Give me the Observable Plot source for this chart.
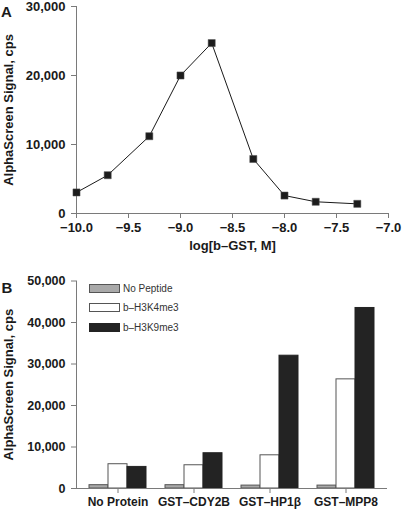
<!DOCTYPE html>
<html>
<head>
<meta charset="utf-8">
<script src="https://cdn.jsdelivr.net/npm/d3@7"></script>
<script src="https://cdn.jsdelivr.net/npm/@observablehq/plot@0.6"></script>
<style>
  html, body { margin: 0; padding: 0; background: #fff; }
  #wrap { position: relative; width: 404px; height: 510px; overflow: hidden; font-family: "Liberation Sans", Arial, sans-serif; }
  #panelA, #panelB { position: absolute; left: 0; }
  #panelA { top: 0; }
  #panelB { top: 262px; }
  #legend { position: absolute; left: 89px; top: 279px; font-size: 10px; color: #333; }
  .lrow { display: flex; align-items: center; height: 19.3px; }
  .sw { width: 29px; height: 7px; border: 1px solid #555; margin-right: 3px; }
</style>
</head>
<body>
<div id="wrap">
  <div id="panelA"></div>
  <div id="panelB"></div>
  <div id="legend"></div>
</div>
<script>
// ---------- Panel A data ----------
const logGST = [-10.0, -9.7, -9.3, -9.0, -8.7, -8.3, -8.0, -7.7, -7.3];
const signalA = [3050, 5550, 11200, 20000, 24700, 7900, 2600, 1700, 1400];
const xTicksA = [-10.0, -9.5, -9.0, -8.5, -8.0, -7.5, -7.0];
const yTicksA = [0, 10000, 20000, 30000];

// ---------- Panel B data ----------
const categories = ["No Protein", "GST–CDY2B", "GST–HP1β", "GST–MPP8"];
const series = ["No Peptide", "b–H3K4me3", "b–H3K9me3"];
const noPeptide = [800, 800, 700, 700];
const h3k4me3 = [5850, 5600, 8000, 26300];
const h3k9me3 = [5200, 8500, 32000, 43500];
const yTicksB = [0, 10000, 20000, 30000, 40000, 50000];
const seriesFill = ["#a9a9a9", "#ffffff", "#232323"];
const seriesStroke = ["#555555", "#555555", "#232323"];

const font = "'Liberation Sans', Arial, sans-serif";
const axisColor = "#7a7a7a";
const yTitle = "AlphaScreen Signal, cps";

// ---------- Panel A ----------
const dataA = logGST.map((x, i) => ({x, y: signalA[i]}));
const chartA = Plot.plot({
  width: 404, height: 262,
  marginTop: 6, marginBottom: 49, marginLeft: 76, marginRight: 16,
  style: {fontFamily: font, fontSize: "13px", fontWeight: "bold", color: "#1a1a1a", background: "transparent", overflow: "visible"},
  x: {domain: [-10, -7]},
  y: {domain: [0, 30000]},
  marks: [
    Plot.axisX({ticks: xTicksA, tickFormat: d3.format(".1f"), tickSize: 5, tickPadding: 4, stroke: axisColor, label: null, fontSize: 13}),
    Plot.axisY({ticks: yTicksA, tickFormat: d3.format(","), tickSize: 5, tickPadding: 6, stroke: axisColor, label: null, fontSize: 13}),
    Plot.ruleY([0], {stroke: axisColor}),
    Plot.ruleX([-10], {stroke: axisColor}),
    Plot.line(dataA, {x: "x", y: "y", stroke: "#1a1a1a", strokeWidth: 1}),
    Plot.dot(dataA, {x: "x", y: "y", symbol: "square", r: 4, fill: "#1c1c1c", stroke: "#555", strokeWidth: 0.5}),
    Plot.text([yTitle], {frameAnchor: "left", dx: -68, rotate: -90, textAnchor: "middle", text: d => d, fontSize: 13, fontWeight: "bold"}),
    Plot.text(["log[b–GST, M]"], {frameAnchor: "bottom", dy: 36, textAnchor: "middle", text: d => d, fontSize: 13, fontWeight: "bold"}),
    Plot.text(["A"], {frameAnchor: "top-left", dx: -70, dy: 0, textAnchor: "middle", text: d => d, fontSize: 15, fontWeight: "bold"})
  ]
});
document.getElementById("panelA").appendChild(chartA);

// ---------- Panel B ----------
const dataB = [];
const domainB = [];
categories.forEach((c, i) => {
  if (i > 0) domainB.push("gap" + i);
  [noPeptide, h3k4me3, h3k9me3].forEach((arr, j) => {
    const key = c + "|" + series[j];
    domainB.push(key);
    dataB.push({key, cat: c, series: series[j], value: arr[i]});
  });
});
const tickKeys = categories.map(c => c + "|" + series[1]);

const chartB = Plot.plot({
  width: 404, height: 248,
  marginTop: 18.5, marginBottom: 22, marginLeft: 76, marginRight: 17,
  style: {fontFamily: font, fontSize: "13px", fontWeight: "bold", color: "#1a1a1a", background: "transparent", overflow: "visible"},
  x: {type: "band", domain: domainB, paddingInner: 0, paddingOuter: 0.5},
  y: {domain: [0, 50000]},
  marks: [
    Plot.barY(dataB, {x: "key", y: "value", fill: d => seriesFill[series.indexOf(d.series)], stroke: d => seriesStroke[series.indexOf(d.series)], strokeWidth: 1, inset: 0}),
    Plot.axisX({ticks: tickKeys, tickFormat: d => d.split("|")[0], tickSize: 5, tickPadding: 4, stroke: axisColor, label: null, fontSize: 12}),
    Plot.axisY({ticks: yTicksB, tickFormat: d3.format(","), tickSize: 5, tickPadding: 6, stroke: axisColor, label: null, fontSize: 12.5}),
    Plot.ruleY([0], {stroke: axisColor}),
    Plot.frame({anchor: "left", stroke: axisColor}),
    Plot.text([yTitle], {frameAnchor: "left", dx: -68, rotate: -90, textAnchor: "middle", text: d => d, fontSize: 13, fontWeight: "bold"}),
    Plot.text(["B"], {frameAnchor: "top-left", dx: -69.5, dy: 1, textAnchor: "middle", text: d => d, fontSize: 15, fontWeight: "bold"})
  ]
});
document.getElementById("panelB").appendChild(chartB);

// ---------- Legend (HTML overlay) ----------
const legend = document.getElementById("legend");
series.forEach((s, j) => {
  const row = document.createElement("div");
  row.className = "lrow";
  const sw = document.createElement("div");
  sw.className = "sw";
  sw.style.background = seriesFill[j];
  sw.style.borderColor = seriesStroke[j];
  const t = document.createElement("span");
  t.textContent = s;
  row.appendChild(sw);
  row.appendChild(t);
  legend.appendChild(row);
});
</script>
</body>
</html>
